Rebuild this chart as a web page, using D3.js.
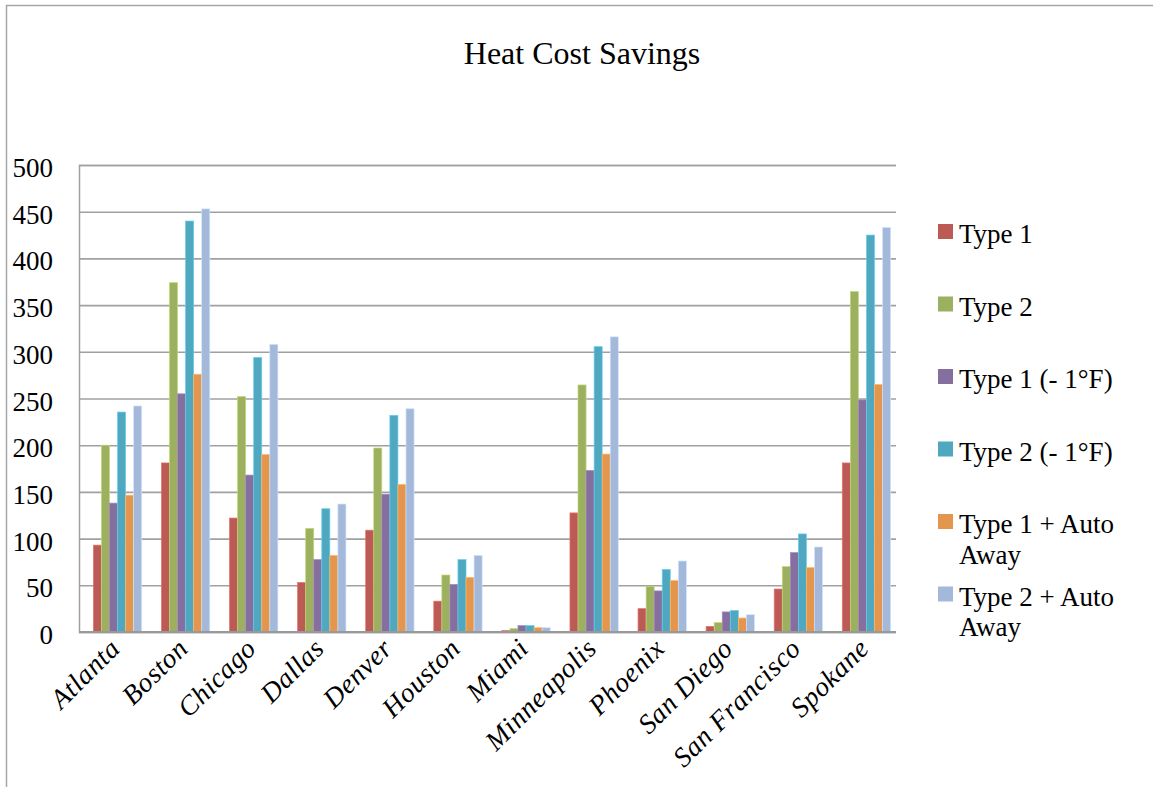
<!DOCTYPE html>
<html>
<head>
<meta charset="utf-8">
<script src="https://cdn.jsdelivr.net/npm/d3@7"></script>
<style>
  html, body { margin: 0; padding: 0; background: #fff; }
  svg { display: block; }
  text { font-family: "Liberation Serif", "Times New Roman", serif; fill: #000; }
</style>
</head>
<body>
<svg id="chart" width="1153" height="787"></svg>
<script>
// Heat cost savings per city for each thermostat configuration
const cities = ["Atlanta", "Boston", "Chicago", "Dallas", "Denver", "Houston", "Miami",
                "Minneapolis", "Phoenix", "San Diego", "San Francisco", "Spokane"];
const seriesNames = ["Type 1", "Type 2", "Type 1 (- 1°F)", "Type 2 (- 1°F)",
                     "Type 1 + Auto Away", "Type 2 + Auto Away"];
const type1         = [93, 181, 122, 53, 109, 33, 1.5, 127.5, 25, 6, 46, 181];
const type2         = [200, 374, 252, 111, 197, 61, 3.6, 264.5, 49, 10, 70, 364.5];
const type1Minus1F  = [138, 255, 168, 77.5, 147.5, 51, 6.8, 173, 44, 21.5, 85, 248.5];
const type2Minus1F  = [235.5, 440, 294, 132, 232, 77.5, 6.8, 305.5, 67, 23, 105, 425];
const type1AutoAway = [146.5, 276, 190, 82, 158, 58.5, 4.6, 190.5, 55, 15, 69, 265];
const type2AutoAway = [242, 453, 308, 137, 239, 82, 4.6, 316, 76, 18.5, 91, 433];
const yTicks = [0, 50, 100, 150, 200, 250, 300, 350, 400, 450, 500];
const colors = ["#bc5a55", "#9cb05f", "#856f9e", "#4fa8c0", "#e4964e", "#a4b8d9"];

const seriesValues = [type1, type2, type1Minus1F, type2Minus1F, type1AutoAway, type2AutoAway];

const svg = d3.select("#chart");

// outer frame (top and left edges)
svg.append("path")
  .attr("d", "M6.5,787 L6.5,5.5 L1153,5.5")
  .attr("fill", "none")
  .attr("stroke", "#a6a6a6")
  .attr("stroke-width", 1.5);

// title
svg.append("text")
  .attr("x", 582)
  .attr("y", 64)
  .attr("text-anchor", "middle")
  .style("font-size", "32px")
  .text("Heat Cost Savings");

const plot = { left: 79, right: 896, top: 165, bottom: 632 };

const y = d3.scaleLinear().domain([0, 500]).range([plot.bottom, plot.top]);

const x0 = d3.scaleBand()
  .domain(cities)
  .range([83.5, 900.5])
  .paddingInner(0.29)
  .paddingOuter(0.145);

const x1 = d3.scaleBand()
  .domain(d3.range(seriesNames.length))
  .range([0, x0.bandwidth()]);

// horizontal gridlines
const yAxis = d3.axisLeft(y)
  .tickValues(yTicks)
  .tickSize(-(plot.right - plot.left))
  .tickFormat("");
const gGrid = svg.append("g")
  .attr("transform", `translate(${plot.left},0)`)
  .call(yAxis);
gGrid.select(".domain").attr("stroke", "#a0a0a0").attr("stroke-width", 1.5);
gGrid.selectAll(".tick line").attr("stroke", "#a0a0a0").attr("stroke-width", 1.6);

// y tick labels
svg.append("g")
  .selectAll("text")
  .data(yTicks)
  .join("text")
  .attr("x", 53)
  .attr("y", d => y(d) + 12)
  .attr("text-anchor", "end")
  .style("font-size", "27px")
  .text(d => d);

// bars
const groups = svg.append("g")
  .selectAll("g")
  .data(cities)
  .join("g")
  .attr("transform", d => `translate(${x0(d)},0)`);

groups.selectAll("rect")
  .data((city, ci) => seriesValues.map((vals, si) => ({ si, v: vals[ci] })))
  .join("rect")
  .attr("x", d => x1(d.si))
  .attr("y", d => y(d.v))
  .attr("width", x1.bandwidth())
  .attr("height", d => y(0) - y(d.v))
  .attr("fill", d => colors[d.si])
  .attr("stroke", d => d3.color(colors[d.si]).brighter(0.6))
  .attr("stroke-width", 0.7);

// x axis baseline
svg.append("line")
  .attr("x1", plot.left).attr("x2", plot.right)
  .attr("y1", plot.bottom).attr("y2", plot.bottom)
  .attr("stroke", "#999")
  .attr("stroke-width", 2);

// category labels, rotated
svg.append("g")
  .selectAll("text")
  .data(cities)
  .join("text")
  .attr("transform", d => `translate(${x0(d) + x0.bandwidth() / 2 + 4},650) rotate(-45)`)
  .attr("text-anchor", "end")
  .style("font-size", "27.5px")
  .style("letter-spacing", "0.6px")
  .style("font-style", "italic")
  .text(d => d);

// legend
const legendLines = [["Type 1"], ["Type 2"], ["Type 1 (- 1°F)"], ["Type 2 (- 1°F)"],
                     ["Type 1 + Auto", "Away"], ["Type 2 + Auto", "Away"]];
const legend = svg.append("g")
  .selectAll("g")
  .data(seriesNames)
  .join("g")
  .attr("transform", (d, i) => `translate(938,${224 + i * 72.5})`);

legend.append("rect")
  .attr("width", 15)
  .attr("height", 15)
  .attr("fill", (d, i) => colors[i]);

legend.append("text")
  .attr("x", 21)
  .attr("y", 19)
  .style("font-size", "27px")
  .selectAll("tspan")
  .data((d, i) => legendLines[i])
  .join("tspan")
  .attr("x", 21)
  .attr("dy", (d, j) => j === 0 ? 0 : 30.5)
  .text(d => d);
</script>
</body>
</html>
